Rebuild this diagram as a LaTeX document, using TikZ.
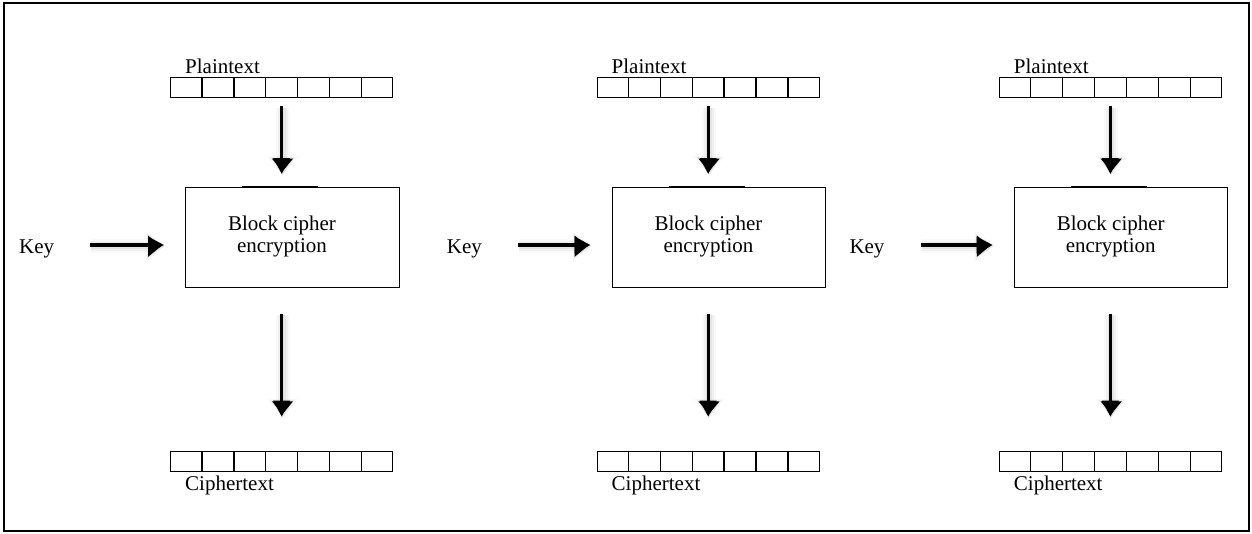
\documentclass[tikz,border=0pt]{standalone}
\usepackage{fontspec}
\setmainfont{Liberation Serif}
\usetikzlibrary{arrows.meta,calc}

\tikzset{
  lbl/.style={inner sep=0pt, font=\fontsize{21}{21.6}\selectfont},
  cellbar/.style={draw, line width=1.4pt, rectangle, inner sep=0pt,
    minimum width=222pt, minimum height=20pt, anchor=north west},
  cipherbox/.style={draw, line width=1.2pt, rectangle, inner sep=0pt,
    minimum width=213.5pt, minimum height=100pt, anchor=north west},
  % soft drop shade under the arrows, built from a few faint wide strokes
  haze/.style={
    preaction={draw=black, draw opacity=0.025, line width=14pt,
      -{Triangle[length=19pt,width=30pt]}, transform canvas={shift={(0.8pt,-1.2pt)}}},
    preaction={draw=black, draw opacity=0.035, line width=10pt,
      -{Triangle[length=18pt,width=25pt]}, transform canvas={shift={(0.8pt,-1.2pt)}}},
    preaction={draw=black, draw opacity=0.05, line width=6pt,
      -{Triangle[length=17pt,width=20pt]}, transform canvas={shift={(0.8pt,-1.2pt)}}}},
  flow/.style={haze, line width=3.2pt, -{Triangle[length=16pt,width=16pt]}},
}

\begin{document}
\begin{tikzpicture}[x=1pt, y=-1pt]
  \useasboundingbox (0,0) rectangle (1252,533);
  \draw[line width=2.5pt] (4,3) rectangle (1249,531);

  \foreach \i/\X/\K in {1/170/19, 2/596.5/446.7, 3/998.7/849.3} {
    % plaintext register
    \node[cellbar] (p\i) at (\X,77) {};
    \node[lbl, anchor=base west] (pl\i) at (\X+15,73) {Plaintext};
    % block cipher
    \node[cipherbox] (b\i) at (\X+15,187) {};
    \node[lbl, align=center] (bt\i) at (\X+112,236.5) {Block cipher\\encryption};
    \draw[line width=2.4pt] ($(b\i.north west)+(57,0)$) -- ($(b\i.north west)+(133,0)$);
    % ciphertext register
    \node[cellbar] (c\i) at (\X,450.7) {};
    \node[lbl, anchor=base west] (cl\i) at (\X+15,490.5) {Ciphertext};
    \foreach \k in {1,...,6} {
      \draw[line width=1.4pt] ($(p\i.north west)!\k/7!(p\i.north east)$) -- ($(p\i.south west)!\k/7!(p\i.south east)$);
      \draw[line width=1.4pt] ($(c\i.north west)!\k/7!(c\i.north east)$) -- ($(c\i.south west)!\k/7!(c\i.south east)$);
    }
    % key input
    \node[lbl, anchor=base west] (k\i) at (\K,253) {Key};
    \draw[flow, shorten <=36pt, shorten >=21pt]
      ([yshift=8pt]k\i.base east) -- ([yshift=8pt]k\i.base east -| b\i.west);
    % data flow
    \draw[flow, shorten <=8pt, shorten >=13pt] (p\i.south) -- (p\i.south |- b\i.north);
    \draw[flow, shorten <=26pt, shorten >=34pt] (b\i.south -| c\i.north) -- (c\i.north);
  }
\end{tikzpicture}
\end{document}
